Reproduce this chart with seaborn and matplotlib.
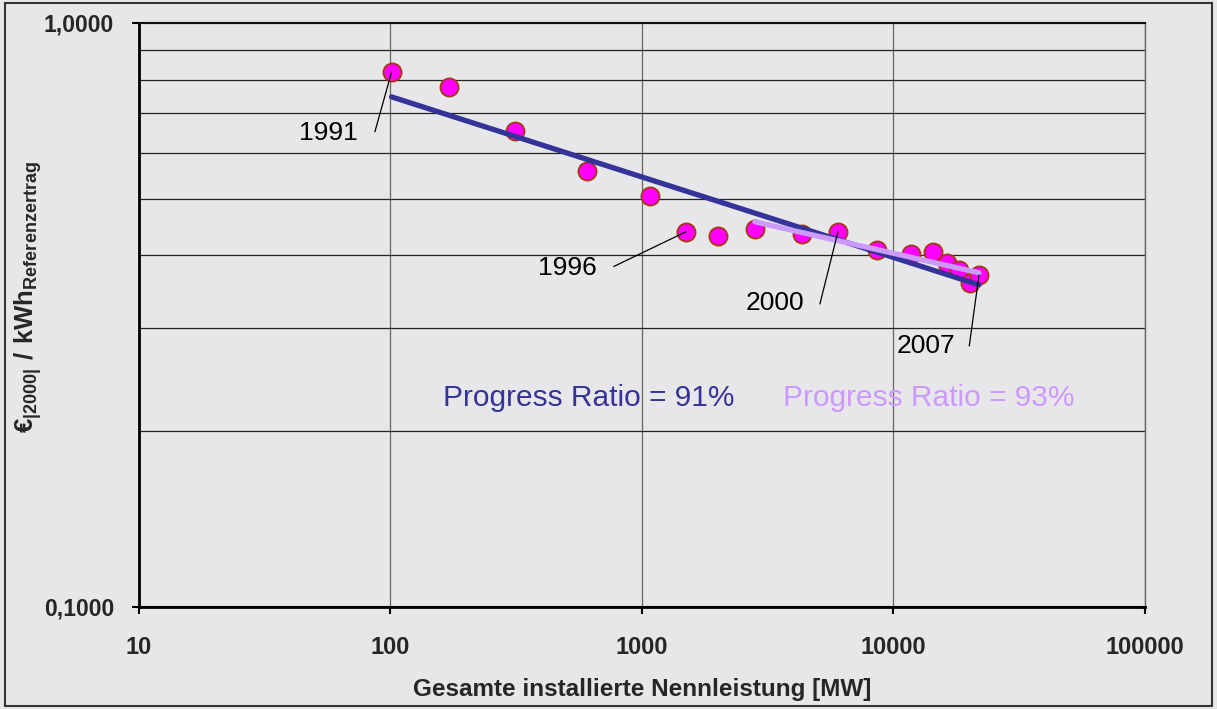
import numpy as np
import pandas as pd
import matplotlib
matplotlib.use('Agg')
import matplotlib.pyplot as plt
import seaborn as sns
from matplotlib.patches import Rectangle
from matplotlib.ticker import NullFormatter

# Daten
jahre = list(range(1991, 2008))
leistung_mw = [101, 171, 313, 604, 1076, 1496, 2005, 2813, 4328, 6015,
               8600, 11740, 14360, 16330, 18200, 20140, 21880]
kosten = [0.824, 0.777, 0.653, 0.558, 0.506, 0.439, 0.432, 0.444, 0.435, 0.439,
          0.409, 0.402, 0.405, 0.388, 0.378, 0.359, 0.370]
markierte_jahre = [1991, 1996, 2000, 2007]
pr_labels = ['Progress Ratio = 91%', 'Progress Ratio = 93%']
x_ticks = [10, 100, 1000, 10000, 100000]
x_ticklabels = ['10', '100', '1000', '10000', '100000']
y_ticks = [0.1, 1.0]
y_ticklabels = ['0,1000', '1,0000']

df = pd.DataFrame({'jahr': jahre, 'mw': leistung_mw, 'kosten': kosten})

# Potenz-Trendlinien (log-log Regression)
def trend(sub):
    k, d = np.polyfit(np.log10(sub['mw']), np.log10(sub['kosten']), 1)
    xs = np.array([sub['mw'].min(), sub['mw'].max()])
    return pd.DataFrame({'mw': xs, 'kosten': 10 ** (d + k * np.log10(xs))}), k

trend_alle, k1 = trend(df)
trend_ab98, k2 = trend(df[df['jahr'] >= 1998])

bg = '#e7e7e9'
sns.set_theme(style='white')
plt.rcParams['font.family'] = ['Liberation Sans', 'DejaVu Sans']
plt.rcParams['mathtext.fontset'] = 'custom'
plt.rcParams['mathtext.rm'] = 'Liberation Sans'
plt.rcParams['mathtext.bf'] = 'Liberation Sans:bold'

fig = plt.figure(figsize=(12.17, 7.09), dpi=100, facecolor=bg)
ax = fig.add_axes([0.1142, 0.1439, 0.8266, 0.8237])
ax.set_facecolor(bg)
ax.set_xscale('log')
ax.set_yscale('log')
ax.set_xlim(10, 100000)
ax.set_ylim(0.1, 1.0)

# Gitter
ax.set_yticks([0.2, 0.3, 0.4, 0.5, 0.6, 0.7, 0.8, 0.9], minor=True)
ax.yaxis.set_minor_formatter(NullFormatter())
ax.set_xticks([], minor=True)
ax.grid(True, which='minor', axis='y', color='#222222', lw=0.9)
ax.grid(True, which='major', axis='x', color='#666666', lw=0.9)
ax.grid(True, which='major', axis='y', color='#111111', lw=1.5)

sns.scatterplot(data=df, x='mw', y='kosten', ax=ax, s=170, color='#ff00ff',
                edgecolor='#a33a10', linewidth=1.3, zorder=3, legend=False)
sns.lineplot(data=trend_alle, x='mw', y='kosten', ax=ax, color='#333399', lw=3.8,
             zorder=4, legend=False)
sns.lineplot(data=trend_ab98, x='mw', y='kosten', ax=ax, color='#cc99ff', lw=3.8,
             zorder=5, legend=False)

# Jahresbeschriftungen
offsets = {1991: ((-12, -43), (-24, -44)),
           1996: ((-52, -25), (-64, -26)),
           2000: ((-13, -52), (-24, -51)),
           2007: ((-7, -51), (-17, -51))}
for j in markierte_jahre:
    row = df[df['jahr'] == j].iloc[0]
    line_off, text_off = offsets[j]
    ax.annotate('', xy=(row['mw'], row['kosten']), xytext=line_off,
                textcoords='offset points',
                arrowprops=dict(arrowstyle='-', lw=0.9, color='black',
                                shrinkA=0, shrinkB=0), zorder=6)
    ax.annotate(str(j), xy=(row['mw'], row['kosten']), xytext=text_off,
                textcoords='offset points', ha='right', va='center',
                fontsize=19, color='black')

ax.text(0.302, 0.358, pr_labels[0], transform=ax.transAxes, ha='left',
        va='center', fontsize=21.5, color='#333399')
ax.text(0.640, 0.358, pr_labels[1], transform=ax.transAxes, ha='left',
        va='center', fontsize=21.5, color='#cc99ff')

ax.set_xticks(x_ticks)
ax.set_xticklabels(x_ticklabels, fontsize=17, fontweight='bold')
ax.set_yticks(y_ticks)
ax.set_yticklabels(y_ticklabels, fontsize=16.5, fontweight='bold')
ax.tick_params(axis='both', which='major', direction='out', length=5, width=1.5,
               color='black', bottom=True, left=True)
ax.tick_params(axis='x', which='major', pad=16)
ax.tick_params(axis='y', which='major', pad=13)
ax.tick_params(which='minor', length=0)

ax.set_xlabel('Gesamte installierte Nennleistung [MW]', fontsize=17.5,
              fontweight='bold')
ax.xaxis.set_label_coords(0.5, -0.122)
ax.set_ylabel(r'$\mathbf{€_{|2000|}\ /\ kWh_{Referenzertrag}}$', fontsize=18.5)
ax.yaxis.set_label_coords(-0.094, 0.53)

for side in ['left', 'bottom']:
    ax.spines[side].set_color('black')
    ax.spines[side].set_linewidth(2)
ax.spines['top'].set_color('#111111')
ax.spines['top'].set_linewidth(1.5)
ax.spines['right'].set_color('#666666')
ax.spines['right'].set_linewidth(1)

fig.add_artist(Rectangle((0.004, 0.004), 0.992, 0.992, transform=fig.transFigure,
                         fill=False, edgecolor='#333333', lw=1.5))

fig.savefig('out.png', dpi=100, facecolor=bg)
